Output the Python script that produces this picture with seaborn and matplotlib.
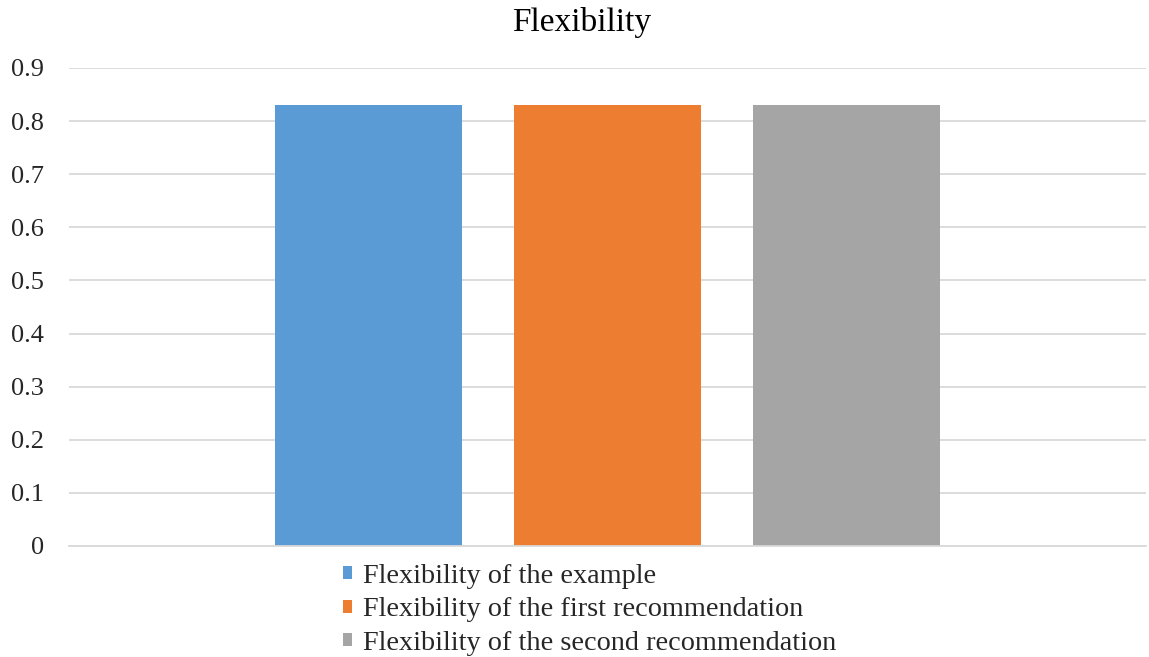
import matplotlib
matplotlib.use("Agg")
import matplotlib.pyplot as plt
import seaborn as sns
import pandas as pd
from matplotlib.patches import Patch

# Chart data
series = [
    "Flexibility of the example",
    "Flexibility of the first recommendation",
    "Flexibility of the second recommendation",
]
values = [0.83, 0.83, 0.83]
colors = ["#5B9BD5", "#ED7D31", "#A5A5A5"]
y_ticks = [0, 0.1, 0.2, 0.3, 0.4, 0.5, 0.6, 0.7, 0.8, 0.9]
y_tick_labels = ["0", "0.1", "0.2", "0.3", "0.4", "0.5", "0.6", "0.7", "0.8", "0.9"]
title = "Flexibility"

df = pd.DataFrame({"group": [""] * len(series), "series": series, "value": values})

sns.set_theme(style="white")
plt.rcParams["font.family"] = ["Liberation Serif", "DejaVu Serif"]

fig = plt.figure(figsize=(11.49, 6.57), dpi=100)
ax = fig.add_axes([69 / 1149, 1 - 546 / 657, (1146 - 69) / 1149, (546 - 68) / 657])

sns.barplot(
    data=df, x="group", y="value", hue="series", hue_order=series,
    palette=colors, width=0.666, gap=0.217, ax=ax, legend=False,
    saturation=1, edgecolor="none",
)

ax.set_ylim(0, 0.9)
ax.set_xlim(-0.5, 0.5)
ax.set_yticks(y_ticks)
ax.set_yticklabels(y_tick_labels)
ax.yaxis.grid(True, color="#d9d9d9", linewidth=1.3)
ax.set_axisbelow(True)
ax.set_xticks([])
ax.set_xlabel("")
ax.set_ylabel("")
for s in ["top", "right", "left"]:
    ax.spines[s].set_visible(False)
ax.spines["bottom"].set_color("#d9d9d9")
ax.spines["bottom"].set_linewidth(1.3)
ax.tick_params(axis="y", length=0, pad=18, labelsize=19, labelcolor="#262626")

fig.text(582 / 1149, 1 - 22 / 657, title, ha="center", va="center", fontsize=24, color="#000000")

handles = [Patch(facecolor=c, edgecolor="none") for c in colors]
fig.legend(
    handles, series, loc="upper left",
    bbox_to_anchor=(343 / 1149, 1 - 564 / 657),
    frameon=False, fontsize=20.3, handlelength=0.32, handleheight=0.32,
    handletextpad=0.4, labelspacing=0.3, borderpad=0, borderaxespad=0,
)

fig.savefig("out.png", dpi=100)
